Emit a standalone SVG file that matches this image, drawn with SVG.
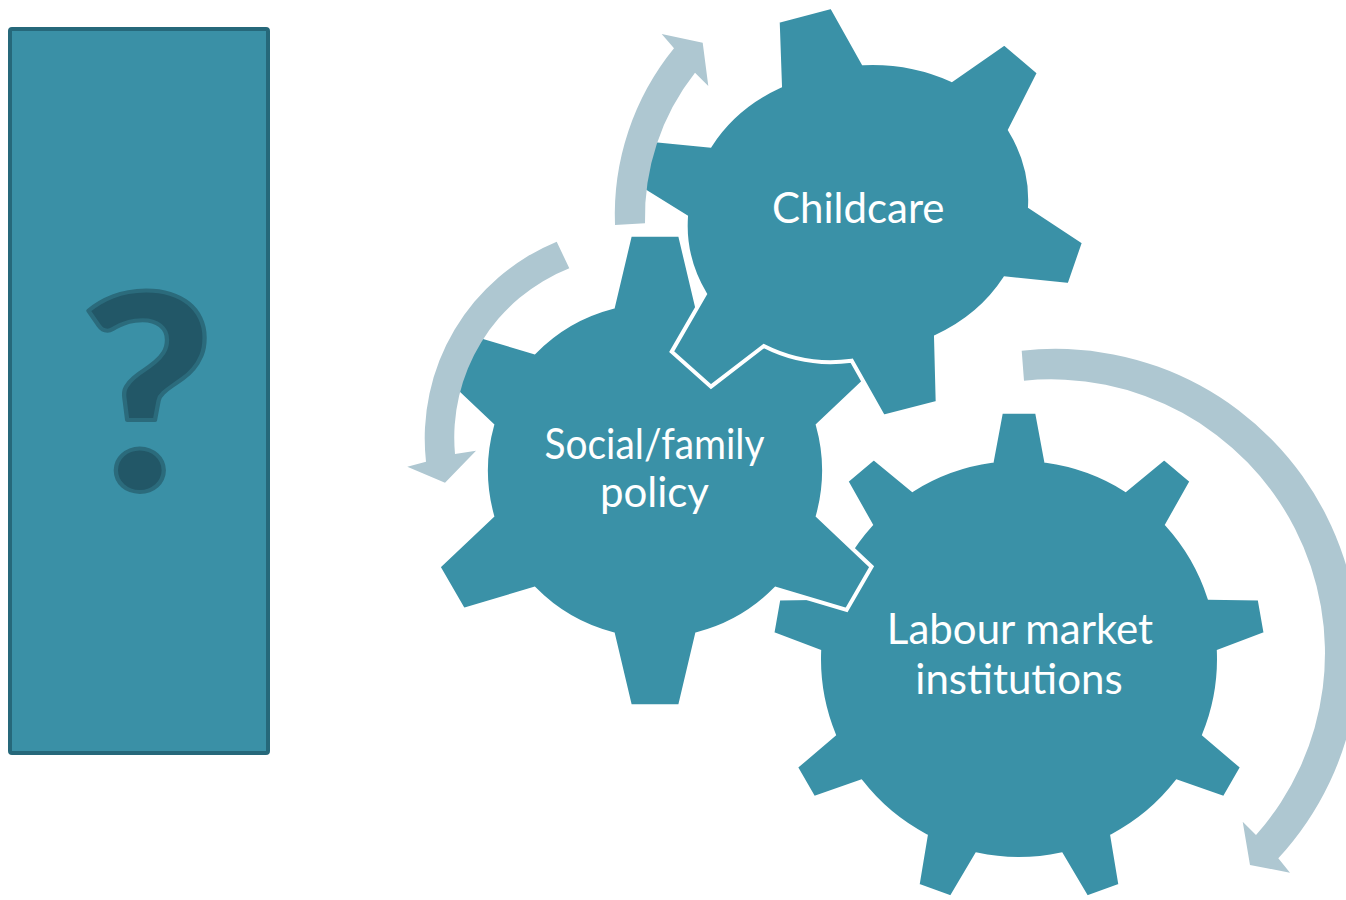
<svg xmlns="http://www.w3.org/2000/svg" width="1346" height="900" viewBox="0 0 1346 900">
<style>
.gear{fill:#3a91a7;stroke:#ffffff;stroke-width:4;stroke-linejoin:miter}
.lbl{fill:#ffffff;font-family:Lato,"Open Sans","Liberation Sans",sans-serif;font-size:42px;text-anchor:middle}
.arrow{fill:#aec7d1;stroke:none}
.box{fill:#3a90a6;stroke:#26687a;stroke-width:4}
.qm{fill:#225767;stroke:#2b6b7c;stroke-width:4;stroke-linejoin:round;font-family:Lato,"Liberation Sans",sans-serif;font-weight:900;font-size:272px;text-anchor:middle}
</style>
<rect width="1346" height="900" fill="#ffffff"/>

<g id="node-unknown">
<rect class="box" x="10" y="29" width="258" height="724" rx="2"/>
<text class="qm" x="0" y="0" transform="translate(147 490) scale(1.08 1)">?</text>
</g>

<g id="gear-labour">
<path class="gear" d="M 991.86,460.85 L 1001.05,411.65 L 1036.95,411.65 L 1046.14,460.85 A 200 200 0 0 1 1125.58,489.76 L 1164.2,458 L 1191.8,481.1 L 1167.16,524.66 A 200 200 0 0 1 1209.42,597.86 L 1259.5,598.4 L 1265.7,633.7 L 1218.85,651.32 A 200 200 0 0 1 1204.18,734.56 L 1242.2,767.1 L 1224.2,798.2 L 1177.04,781.58 A 200 200 0 0 1 1112.28,835.92 L 1120.5,885.3 L 1086.7,897.6 L 1061.26,854.48 A 200 200 0 0 1 976.74,854.48 L 951.3,897.6 L 917.5,885.3 L 925.72,835.92 A 200 200 0 0 1 860.96,781.58 L 813.8,798.2 L 795.8,767.1 L 833.82,734.56 A 200 200 0 0 1 819.15,651.32 L 772.3,633.7 L 778.5,598.4 L 828.58,597.86 A 200 200 0 0 1 870.84,524.66 L 846.2,481.1 L 873.8,458 L 912.42,489.76 A 200 200 0 0 1 991.86,460.85 Z"/>
<text class="lbl" x="1020" y="643.5">Labour market</text>
<text class="lbl" x="1019" y="693.5">institutions</text>
</g>

<g id="gear-social">
<path class="gear" d="M 612.97,306.8 L 630.02,234.8 L 679.98,234.8 L 697.03,306.8 A 169 169 0 0 1 777,346 L 846.6,331 L 871.6,374.3 L 817.8,425.06 A 169 169 0 0 1 817.8,515.94 L 871.6,566.7 L 846.6,610 L 775.75,588.75 A 169 169 0 0 1 697.03,634.2 L 679.98,706.2 L 630.02,706.2 L 612.97,634.2 A 169 169 0 0 1 534.25,588.75 L 463.4,610 L 438.4,566.7 L 492.2,515.94 A 169 169 0 0 1 492.2,425.06 L 438.4,374.3 L 463.4,331 L 534.25,352.25 A 169 169 0 0 1 612.97,306.8 Z"/>
<text class="lbl" x="654.5" y="458.5" textLength="220" lengthAdjust="spacingAndGlyphs">Social/family</text>
<text class="lbl" x="654.5" y="506.5">policy</text>
</g>

<g id="gear-childcare">
<path class="gear" d="M 780,86 L 777.7,21 L 831.7,6.7 L 863.3,63.3 A 172 149 0 0 1 951.7,80 L 1004.3,43.3 L 1039,72.7 L 1010,130 A 172 149 0 0 1 1030,206.7 L 1084,242.3 L 1069.3,285 L 1005,278.3 A 172 149 0 0 1 936,336.7 L 937.7,402.7 L 883.3,416.7 L 851.7,360.7 A 145 140 0 0 1 763.8,346 L 711,386.7 L 671.7,351.7 L 705,294 A 172 149 0 0 1 686,216.7 L 641.5,189.3 L 642.5,138.9 L 710,145.7 A 172 149 0 0 1 780,86 Z"/>
<text class="lbl" x="858.3" y="223.3">Childcare</text>
</g>

<g id="connectors">
<path id="arrow-childcare" class="arrow" d="M 615,225 A 263.5 263.5 0 0 1 674,48.3 L 661.7,34 L 702.7,42.7 L 708.3,86 L 695,72.7 A 234 234 0 0 0 645,223.3 Z"/>
<path id="arrow-social" class="arrow" d="M 556.7,241.7 A 212.5 212.5 0 0 0 426,461.7 L 407.3,466.7 L 445,482.7 L 476,450.7 L 455,454 A 182 182 0 0 1 569.3,268.3 Z"/>
<path id="arrow-labour" class="arrow" d="M 1021.7,350.7 A 303.5 303.5 0 0 1 1278.3,858.3 L 1290,872.7 L 1250,865 L 1242.7,821.7 L 1256,835 A 273.9 273.9 0 0 0 1024,380.7 Z"/>
</g>
</svg>
